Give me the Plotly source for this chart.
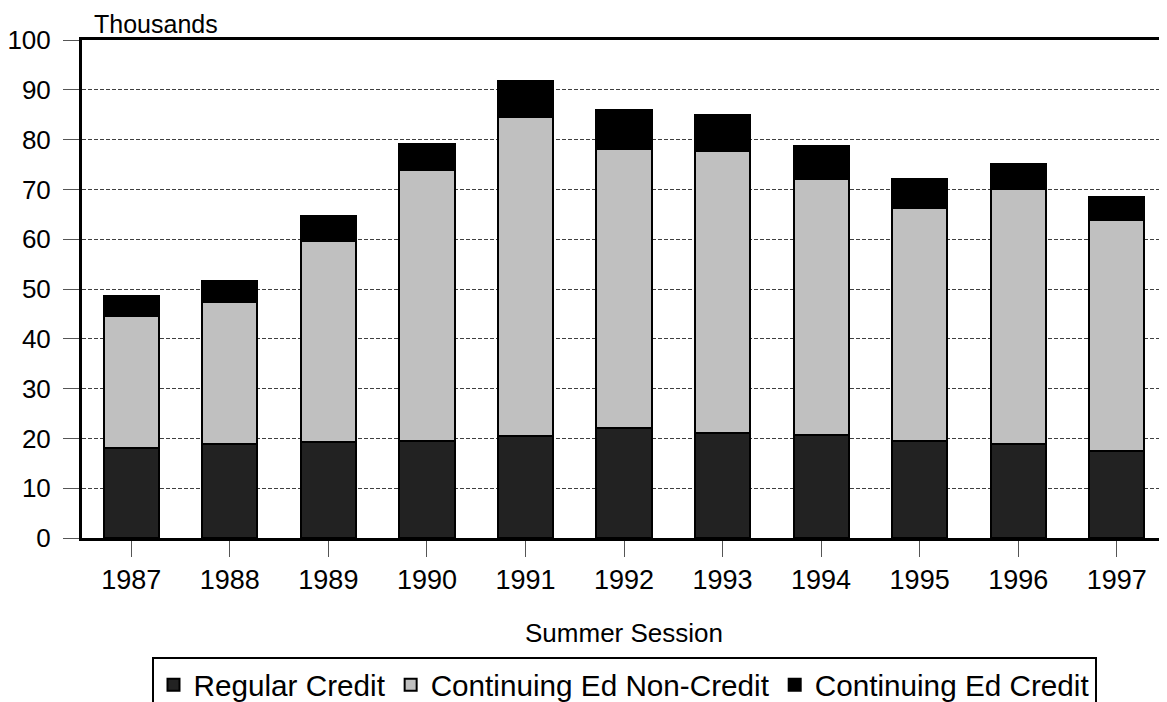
import plotly.graph_objects as go

years = ["1987", "1988", "1989", "1990", "1991", "1992", "1993", "1994", "1995", "1996", "1997"]
regular_credit = [18.0, 18.8, 19.2, 19.4, 20.4, 22.0, 21.1, 20.7, 19.4, 18.8, 17.4]
cont_ed_noncredit = [26.6, 28.5, 40.5, 54.4, 64.2, 56.1, 56.7, 51.4, 46.9, 51.3, 46.5]
cont_ed_credit = [3.9, 4.3, 4.9, 5.3, 7.2, 7.8, 7.1, 6.6, 5.8, 5.1, 4.5]
y_ticks = [0, 10, 20, 30, 40, 50, 60, 70, 80, 90, 100]

FONT = "Arial, Liberation Sans, sans-serif"

fig = go.Figure()
series = [
    ("Regular Credit", regular_credit, "#222222"),
    ("Continuing Ed Non-Credit", cont_ed_noncredit, "#C0C0C0"),
    ("Continuing Ed Credit", cont_ed_credit, "#000000"),
]
for name, vals, col in series:
    fig.add_trace(go.Bar(
        x=years, y=vals, name=name,
        marker=dict(color=col, line=dict(color="#000000", width=2)),
    ))

# page body has an 8px margin, so the figure is sized/offset to compensate
fig.update_layout(
    barmode="stack",
    bargap=0.44,
    width=1159, height=694,
    margin=dict(l=74, r=1, t=32, b=164, autoexpand=False),
    paper_bgcolor="white", plot_bgcolor="white",
    font=dict(family=FONT, size=26, color="black"),
    showlegend=True,
    legend=dict(
        orientation="h", x=0.5, xanchor="center", y=-0.239, yanchor="top",
        bordercolor="black", borderwidth=2, bgcolor="white",
        font=dict(family=FONT, size=29.7, color="black"),
        itemwidth=30, traceorder="normal",
    ),
    annotations=[dict(
        text="Thousands", xref="paper", yref="paper", x=0.009, y=1, xanchor="left",
        yanchor="middle", yshift=16, showarrow=False,
        font=dict(family=FONT, size=25, color="black"),
    )],
)
fig.update_xaxes(
    type="category", automargin=False,
    showline=True, linecolor="black", linewidth=3, mirror=True,
    ticks="outside", ticklen=16, tickcolor="#555555", tickwidth=1,
    title=dict(text="Summer Session", font=dict(family=FONT, size=26), standoff=30),
    tickfont=dict(family=FONT, size=27),
    showgrid=False,
)
fig.update_yaxes(
    range=[0, 100], tickvals=y_ticks, automargin=False,
    showline=True, linecolor="black", linewidth=3, mirror=True,
    ticks="outside", ticklen=16, tickcolor="#555555", tickwidth=1,
    ticklabelstandoff=7,
    showgrid=True, gridcolor="#404040", gridwidth=1, griddash="4px,2px",
    tickfont=dict(family=FONT, size=26),
    zeroline=False,
)

fig.write_html("out.html")
